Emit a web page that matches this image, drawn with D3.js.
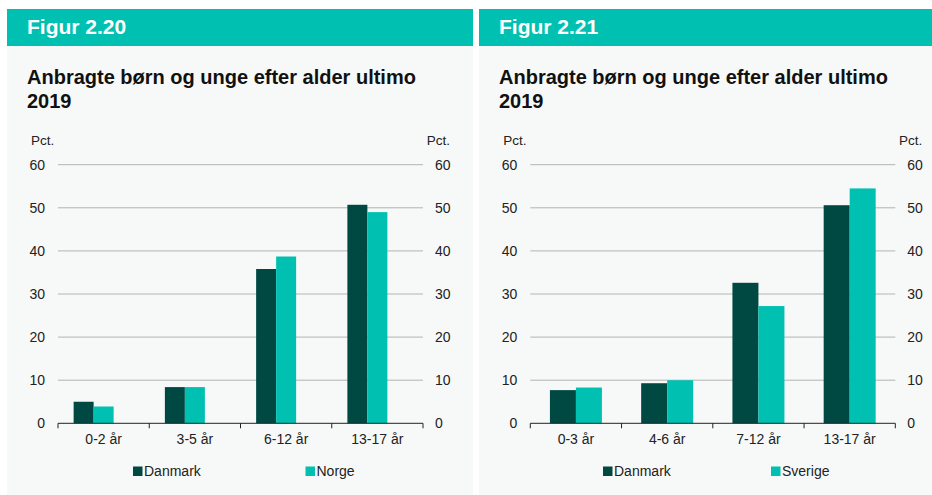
<!DOCTYPE html>
<html>
<head>
<meta charset="utf-8">
<script src="https://cdn.jsdelivr.net/npm/d3@7"></script>
<style>
  body { margin: 0; background: #fff; }
  svg { display: block; font-family: "Liberation Sans", Arial, sans-serif; }
</style>
</head>
<body>
<svg id="chart" width="932" height="495"></svg>
<script>
// Figur 2.20 - Danmark vs Norge
var ages1 = ["0-2 år", "3-5 år", "6-12 år", "13-17 år"]
var danmark1 = [5.0, 8.4, 35.8, 50.7]
var norge1 = [3.9, 8.4, 38.7, 49.0]

// Figur 2.21 - Danmark vs Sverige
var ages2 = ["0-3 år", "4-6 år", "7-12 år", "13-17 år"]
var danmark2 = [7.7, 9.3, 32.6, 50.6]
var sverige2 = [8.3, 10.0, 27.2, 54.5]

var yTicks = [0, 10, 20, 30, 40, 50, 60]

var dark = "#004943"
var teal = "#00c1b1"

var svg = d3.select("#chart")

function drawPanel(opts) {
    var g = svg.append("g")

    // background + header
    g.append("rect").attr("x", opts.x0).attr("y", 9)
        .attr("width", opts.x1 - opts.x0).attr("height", 486)
        .attr("fill", "#f7f9f9")
    g.append("rect").attr("x", opts.x0).attr("y", 9)
        .attr("width", opts.x1 - opts.x0).attr("height", 37)
        .attr("fill", "#00c1b1")
    g.append("text").attr("x", opts.x0 + 20).attr("y", 34)
        .attr("fill", "#fff").attr("font-size", 21).attr("font-weight", "bold")
        .text(opts.fig)

    g.append("text").attr("x", opts.x0 + 20).attr("y", 83.5)
        .attr("font-size", 20).attr("font-weight", "bold").attr("fill", "#111")
        .text("Anbragte børn og unge efter alder ultimo")
    g.append("text").attr("x", opts.x0 + 20).attr("y", 108)
        .attr("font-size", 20).attr("font-weight", "bold").attr("fill", "#111")
        .text("2019")

    var x = d3.scaleBand().domain(opts.cats).range([opts.left, opts.right])
    var y = d3.scaleLinear().domain([0, 60]).range([423.3, 164.7])

    // gridlines
    g.selectAll(".grid").data(yTicks.slice(1)).enter()
        .append("line")
        .attr("x1", opts.left).attr("x2", opts.right)
        .attr("y1", function(d) { return y(d) }).attr("y2", function(d) { return y(d) })
        .attr("stroke", "#b3b3b3").attr("stroke-width", 1)

    // left and right tick labels
    g.selectAll(".yl").data(yTicks).enter().append("text")
        .attr("x", opts.left - 13).attr("y", function(d) { return y(d) + 5 })
        .attr("text-anchor", "end").attr("font-size", 14).attr("fill", "#222")
        .text(function(d) { return d })
    g.selectAll(".yr").data(yTicks).enter().append("text")
        .attr("x", opts.right + 12).attr("y", function(d) { return y(d) + 5 })
        .attr("font-size", 14).attr("fill", "#222")
        .text(function(d) { return d })

    g.append("text").attr("x", opts.left - 27).attr("y", 145)
        .attr("font-size", 13.5).attr("fill", "#222").text("Pct.")
    g.append("text").attr("x", opts.right + 27).attr("y", 145)
        .attr("text-anchor", "end").attr("font-size", 13.5).attr("fill", "#222").text("Pct.")

    // bars: series slots inside each category, gap split on both sides
    var half = opts.gap / 2
    var inner = d3.scaleBand().domain(d3.range(opts.slots))
        .range([half, x.bandwidth() - half])
    var series = [{vals: opts.s1, color: dark}, {vals: opts.s2, color: teal}]
    series.forEach(function(s, si) {
        g.selectAll(".bar" + si).data(s.vals).enter().append("rect")
            .attr("x", function(d, i) { return x(opts.cats[i]) + inner(si) })
            .attr("width", inner.bandwidth())
            .attr("y", function(d) { return y(d) })
            .attr("height", function(d) { return y(0) - y(d) })
            .attr("fill", s.color)
    })

    // x axis
    var xAxis = d3.axisBottom(x).tickSize(0).tickPadding(11)
    var ax = g.append("g").attr("transform", "translate(0," + y(0) + ")").call(xAxis)
    ax.select(".domain").remove()
    ax.selectAll("text").attr("font-size", 14).attr("fill", "#222")
        .attr("font-family", "Liberation Sans, Arial, sans-serif")
    g.append("line").attr("x1", opts.left).attr("x2", opts.right)
        .attr("y1", y(0)).attr("y2", y(0)).attr("stroke", "#222")
    var bounds = opts.cats.map(function(c) { return x(c) }).concat([opts.right])
    g.selectAll(".tk").data(bounds).enter().append("line")
        .attr("x1", function(d) { return d }).attr("x2", function(d) { return d })
        .attr("y1", y(0)).attr("y2", y(0) + 5).attr("stroke", "#222")

    // legend
    var legend = [{name: "Danmark", color: dark, x: opts.leg1}, {name: opts.name2, color: teal, x: opts.leg2}]
    legend.forEach(function(l) {
        g.append("rect").attr("x", l.x).attr("y", 466.5).attr("width", 9.5).attr("height", 9.5)
            .attr("fill", l.color)
        g.append("text").attr("x", l.x + 11).attr("y", 476)
            .attr("font-size", 14).attr("fill", "#222").text(l.name)
    })
}

drawPanel({x0: 7, x1: 473, fig: "Figur 2.20", cats: ages1, s1: danmark1, s2: norge1,
    name2: "Norge", left: 58, right: 423, slots: 3, gap: 31.25, leg1: 133, leg2: 305.5})
drawPanel({x0: 479, x1: 932, fig: "Figur 2.21", cats: ages2, s1: danmark2, s2: sverige2,
    name2: "Sverige", left: 530.3, right: 895.3, slots: 2, gap: 39.25, leg1: 603, leg2: 771})
</script>
</body>
</html>
